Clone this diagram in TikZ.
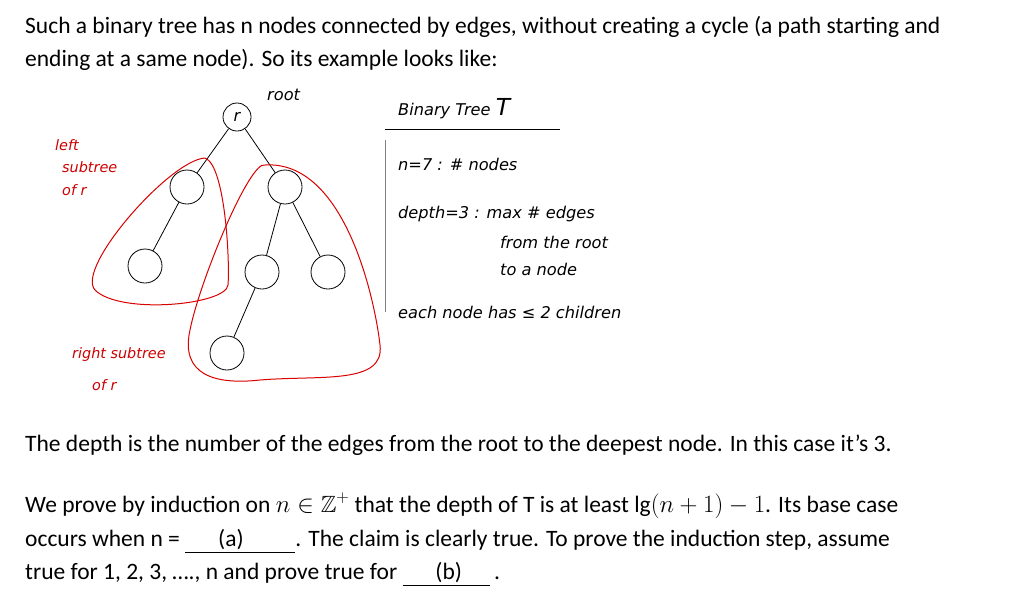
\documentclass[tikz,border=0pt]{standalone}
\usepackage{amsmath,amssymb}
\usepackage{fontspec}
\setmainfont{Carlito}
\newfontfamily\hand{DejaVu Sans}[Scale=0.9]
\begin{document}
\begin{tikzpicture}[x=1pt,y=-1pt,
  txt/.style={anchor=base west,inner sep=0,font=\fontsize{23.5}{26}\selectfont},
  hw/.style={anchor=base west,inner sep=0,font=\hand\fontsize{18}{20}\selectfont\itshape},
  hwr/.style={hw,text=red!80!black,font=\hand\fontsize{16}{18}\selectfont\itshape},
  tn/.style={circle,draw,minimum size=34pt,inner sep=0,line width=0.8pt},
  ed/.style={line width=0.8pt},
  loop/.style={draw=red!85!black,line width=1pt}]
\useasboundingbox (0,0) rectangle (1024,608);
\node[txt] (l1) at (25,33) {Such a binary tree has n nodes connected by edges, without creating a cycle (a path starting and};
\node[txt] (l2) at (25,66) {ending at a same node). So its example looks like:};
\node[txt] (l3) at (25,451) {The depth is the number of the edges from the root to the deepest node. In this case it’s 3.};
\node[txt] (l4) at (25,512) {We prove by induction on $n\in\mathbb{Z}^{+}$ that the depth of T is at least $\lg(n+1)-1$. Its base case};
\node[txt] (l5) at (25,546) {occurs when n = \underline{\hspace{1.4em}(a)\hspace{2.2em}}. The claim is clearly true. To prove the induction step, assume};
\node[txt] (l6) at (25,579) {true for 1, 2, 3, …., n and prove true for \underline{\hspace{1.4em}(b)\hspace{1.2em}}\,.};
% tree
\node[tn,minimum size=28pt] (r) at (237,117) {\hand\fontsize{18}{18}\selectfont\itshape r};
\node[tn] (a) at (187,187) {};
\node[tn] (b) at (285,187) {};
\node[tn] (c) at (145,266) {};
\node[tn] (d) at (262,272) {};
\node[tn] (e) at (328,272) {};
\node[tn] (f) at (227,353) {};
\draw[ed] (r)--(a); \draw[ed] (r)--(b); \draw[ed] (a)--(c);
\draw[ed] (b)--(d); \draw[ed] (b)--(e); \draw[ed] (d)--(f);
% loops
\draw[loop] (205,158) .. controls (225,165) and (230,260) .. (228,285)
  .. controls (226,305) and (120,315) .. (95,290)
  .. controls (75,268) and (170,160) .. (205,158);
\draw[loop] (265,165) .. controls (250,160) and (200,280) .. (190,330)
  .. controls (180,375) and (215,385) .. (260,380)
  .. controls (320,375) and (385,385) .. (380,345)
  .. controls (375,300) and (345,160) .. (265,165);
% labels
\node[hw] (root) at (267,100) {root};
\node[hw] (bt) at (398,115) {Binary Tree \fontsize{26}{26}\selectfont T};
\draw[ed] (385,129) -- (560,129);
\draw[line width=0.4pt,gray] (385,140) -- (385,312);
\node[hw] (n7) at (398,170) {n=7 : \# nodes};
\node[hw] (dp) at (398,218) {depth=3 : max \# edges};
\node[hw] (fr) at (500,248) {from the root};
\node[hw] (tn2) at (500,275) {to a node};
\node[hw] (ch) at (398,318) {each node has ≤ 2 children};
\node[hwr] (ls1) at (55,150) {left};
\node[hwr] (ls2) at (62,172) {subtree};
\node[hwr] (ls3) at (62,195) {of r};
\node[hwr] (rs1) at (72,358) {right subtree};
\node[hwr] (rs2) at (92,390) {of r};
\end{tikzpicture}
\end{document}
